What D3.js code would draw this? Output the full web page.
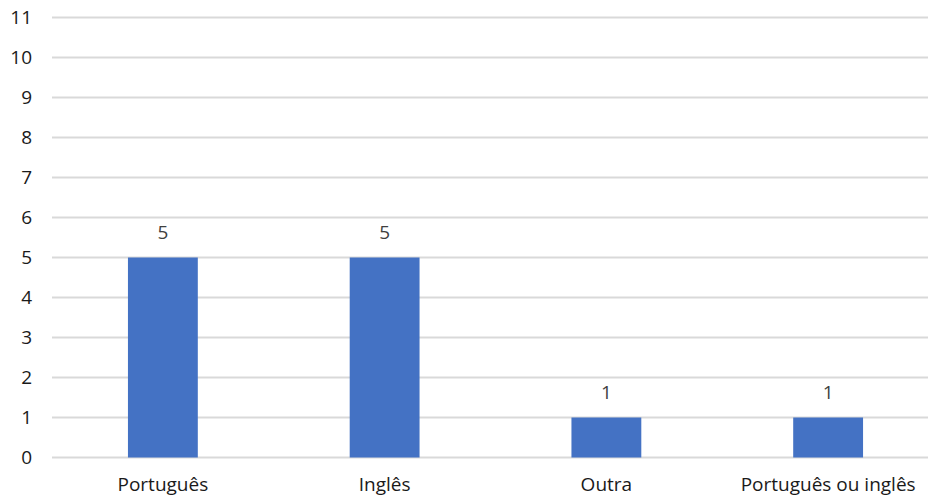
<!DOCTYPE html>
<html>
<head>
<meta charset="utf-8">
<script src="https://cdn.jsdelivr.net/npm/d3@7"></script>
<style>
  html, body { margin: 0; padding: 0; background: #fff; }
  svg { display: block; }
  text { font-family: "Open Sans", "Noto Sans", sans-serif; }
</style>
</head>
<body>
<svg id="chart" width="928" height="499"></svg>
<script>
const categories = ["Português", "Inglês", "Outra", "Português ou inglês"];
const values = [5, 5, 1, 1];
const yTicks = [0, 1, 2, 3, 4, 5, 6, 7, 8, 9, 10, 11];

const svg = d3.select("#chart");
const margin = { left: 52, right: -11, top: 17.5, bottom: 41.5 };
const W = 928, H = 499;

const x = d3.scaleBand()
  .domain(categories)
  .range([margin.left, W - margin.right])
  .paddingInner(0.685)
  .paddingOuter(0.3425);

const y = d3.scaleLinear()
  .domain([0, 11])
  .range([H - margin.bottom, margin.top]);

// horizontal gridlines
svg.append("g")
  .selectAll("line")
  .data(yTicks)
  .join("line")
  .attr("x1", margin.left)
  .attr("x2", W)
  .attr("y1", d => y(d))
  .attr("y2", d => y(d))
  .attr("stroke", "#d9d9d9")
  .attr("stroke-width", 2);

// y axis labels
const yAxis = d3.axisLeft(y).tickValues(yTicks).tickSize(0).tickPadding(0);
const yg = svg.append("g")
  .attr("transform", `translate(${32},0)`)
  .call(yAxis);
yg.select(".domain").remove();
yg.selectAll("text")
  .attr("font-size", 19)
  .attr("fill", "#1a1a1a")
  .style("font-family", "'Open Sans', sans-serif");

// bars
svg.append("g")
  .selectAll("rect")
  .data(values)
  .join("rect")
  .attr("x", (d, i) => x(categories[i]))
  .attr("y", d => y(d))
  .attr("width", x.bandwidth())
  .attr("height", d => y(0) - y(d))
  .attr("fill", "#4472c4");

// value labels
svg.append("g")
  .selectAll("text")
  .data(values)
  .join("text")
  .attr("x", (d, i) => x(categories[i]) + x.bandwidth() / 2)
  .attr("y", d => y(d) - 19)
  .attr("text-anchor", "middle")
  .attr("font-size", 19)
  .attr("fill", "#404040")
  .text(d => d);

// category labels
const xAxis = d3.axisBottom(x).tickSize(0).tickPadding(0);
const xg = svg.append("g")
  .attr("transform", `translate(0,${y(0) + 20})`)
  .call(xAxis);
xg.select(".domain").remove();
xg.selectAll("text")
  .attr("font-size", 19)
  .attr("fill", "#1a1a1a")
  .style("font-family", "'Open Sans', sans-serif");
</script>
</body>
</html>
